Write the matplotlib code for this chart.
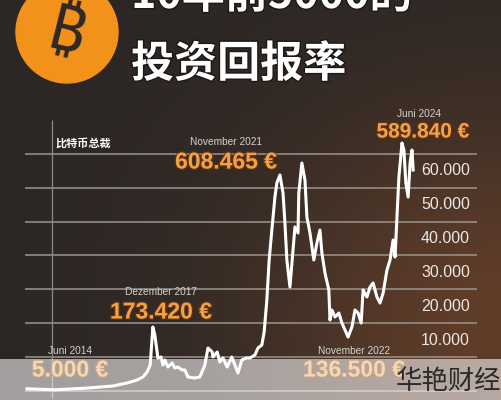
import numpy as np
import matplotlib
matplotlib.use('Agg')
import matplotlib.pyplot as plt
from matplotlib import patheffects as pe
from matplotlib.patches import Circle, Rectangle

# bitcoin price (EUR), x in decimal years
years = [2014.45, 2015.20, 2016.01, 2016.68, 2017.05, 2017.31, 2017.46, 2017.57, 2017.65,
         2017.72, 2017.77, 2017.83, 2017.85, 2017.93, 2017.98, 2018.03, 2018.11, 2018.22,
         2018.29, 2018.37, 2018.48, 2018.55, 2018.63, 2018.81, 2018.94, 2019.07, 2019.15,
         2019.26, 2019.28, 2019.39, 2019.46, 2019.54, 2019.65, 2019.77, 2019.85, 2019.93,
         2020.03, 2020.14, 2020.24, 2020.37, 2020.45, 2020.55, 2020.61, 2020.68, 2020.74,
         2020.81, 2020.89, 2020.94, 2021.02, 2021.10, 2021.15, 2021.20, 2021.28, 2021.36,
         2021.41, 2021.49, 2021.51, 2021.59, 2021.67, 2021.72, 2021.80, 2021.90, 2021.98,
         2022.06, 2022.11, 2022.19, 2022.29, 2022.32, 2022.37, 2022.45, 2022.55, 2022.63,
         2022.71, 2022.79, 2022.89, 2022.97, 2023.05, 2023.13, 2023.18, 2023.28, 2023.36,
         2023.44, 2023.54, 2023.62, 2023.70, 2023.80, 2023.88, 2023.96, 2024.01, 2024.06,
         2024.11, 2024.19, 2024.24, 2024.29, 2024.35, 2024.40, 2024.45, 2024.48]
prices = [600, 300, 800, 1420, 2310, 3190, 4080, 5560, 7630,
          18860, 16490, 11470, 9700, 9990, 7630, 9100, 7040, 8220,
          6740, 7040, 6150, 6150, 4080, 3780, 4080, 7630, 12650,
          11470, 9990, 11470, 8510, 9700, 7040, 9990, 7630, 5260,
          9100, 9700, 9700, 10580, 12650, 13540, 17380, 26840, 38670,
          47530, 57290, 61430, 63800, 58470, 49600, 38670, 30680, 41620,
          48420, 46650, 58470, 67330, 62310, 51380, 46650, 38670, 43690,
          47530, 40730, 34820, 29800, 20930, 23880, 21820, 23000, 20040,
          17970, 15900, 18860, 23880, 23000, 20040, 29800, 27730, 30680,
          31870, 27730, 25950, 28910, 35710, 38670, 44580, 39550, 51380,
          63200, 73250, 71180, 61430, 57290, 67330, 71180, 65270]

grid_values = [0, 10000, 20000, 30000, 40000, 50000, 60000, 70000]
ytick_values = [10000, 20000, 30000, 40000, 50000, 60000]
ytick_labels = ['10.000', '20.000', '30.000', '40.000', '50.000', '60.000']

note_dates = ['Juni 2014', 'Dezember 2017', 'November 2021', 'November 2022', 'Juni 2024']
note_values = ['5.000 €', '173.420 €', '608.465 €', '136.500 €', '589.840 €']

W, H = 501, 400
fig = plt.figure(figsize=(W / 100, H / 100), dpi=100)

# background: dark with a brown glow on the right
bg = fig.add_axes([0, 0, 1, 1], zorder=0)
yy, xx = np.mgrid[0:H, 0:W]
glow = np.exp(-((xx - 500) ** 2 / (2 * 170.0 ** 2) + (yy - 320) ** 2 / (2 * 150.0 ** 2)))
base = np.array([44, 39, 37]) / 255
warm = np.array([52, 22, 4]) / 255
img = base + glow[..., None] * warm
bg.imshow(np.clip(img, 0, 1), extent=[0, W, H, 0], aspect='auto')
bg.set_xlim(0, W)
bg.set_ylim(H, 0)
bg.axis('off')

# chart axes, mapped so the plot sits where it does in the picture
ax = fig.add_axes([0, 0, 1, 1], zorder=1)
ax.set_facecolor('none')
ax.set_xlim(2013.749, 2026.762)
ax.set_ylim(-2720, 115520)
ax.axis('off')

ax.hlines(grid_values, 2014.40, 2026.14, color='#9a9590', lw=1.1, zorder=1)
ax.vlines(2015.10, -2000, 80000, color='#8f8a86', lw=0.9, zorder=1)
ax.plot(years, prices, color='white', lw=2.2, solid_joinstyle='round', zorder=3)

for v, lab in zip(ytick_values, ytick_labels):
    ax.text(2025.96, v + 5000, lab, ha='right', va='center', color='#ece8e4',
            fontsize=11.5, family='Liberation Sans')

# overlay in pixel coordinates for titles and notes
ov = fig.add_axes([0, 0, 1, 1], zorder=2)
ov.set_facecolor('none')
ov.set_xlim(0, W)
ov.set_ylim(H, 0)
ov.axis('off')

# bitcoin logo
ov.add_patch(Circle((67, 32), 51, color='#f3921b', zorder=2))
ov.text(66, 34, '₿', ha='center', va='center', rotation=-14, color='#2e2826',
        fontsize=46, fontweight='bold', family=['DejaVu Sans', 'Noto Sans'], zorder=3)

cjk = ['Noto Sans CJK SC', 'DejaVu Sans']
shadow = [pe.withStroke(linewidth=2, foreground='#1c1816')]
ov.text(131, 8, '10年前5000的', ha='left', va='baseline', color='white', fontsize=31,
        fontweight='black', family=cjk, path_effects=shadow)
ov.text(131, 64, '投资回报率', ha='left', va='center', color='white', fontsize=31,
        fontweight='black', family=cjk, path_effects=shadow)
ov.text(55, 143, '比特币总裁', ha='left', va='center', color='white', fontsize=8,
        fontweight='bold', family=cjk)

# date / value notes (pixel positions)
date_pos = [(70, 351), (161, 292), (226, 142), (354, 351), (419, 114)]
value_pos = [(70, 370), (161, 312), (226, 162), (354, 370), (423, 132)]
value_size = [16.5, 16.5, 16.5, 16.5, 15]
glow_fx = [pe.withStroke(linewidth=2, foreground='#6a3412', alpha=0.7)]
for d, val, dp, vp, fs in zip(note_dates, note_values, date_pos, value_pos, value_size):
    ov.text(dp[0], dp[1], d, ha='center', va='center', color='#d6d2ce', fontsize=7.3,
            family='Liberation Sans', zorder=4)
    ov.text(vp[0], vp[1], val, ha='center', va='center', color='#f2a244', fontsize=fs,
            fontweight='bold', family='Liberation Sans', path_effects=glow_fx, zorder=4)

# light band over the bottom of the picture
ov.add_patch(Rectangle((0, 359), W, H - 359, color='white', alpha=0.56, lw=0, zorder=6))
ov.text(449, 381, '华艳财经', ha='center', va='center', color='#2a2a2a', fontsize=19,
        fontweight='light', family=cjk, zorder=7)

fig.savefig('out.png', dpi=100)
